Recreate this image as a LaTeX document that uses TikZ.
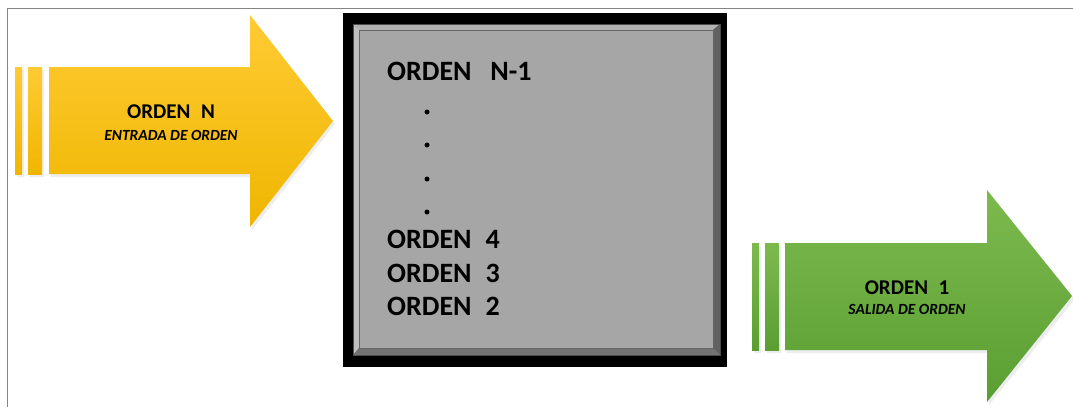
\documentclass[tikz,border=0pt]{standalone}
\usepackage{fontspec}
\setmainfont{Carlito}
\usetikzlibrary{calc}
\definecolor{frameGray}{HTML}{858585}
\definecolor{yelTop}{HTML}{FFCB34}
\definecolor{yelMid}{HTML}{FFC000}
\definecolor{yelBot}{HTML}{EFB600}
\definecolor{grnTop}{HTML}{7DBA4E}
\definecolor{grnMid}{HTML}{6AAD3F}
\definecolor{grnBot}{HTML}{5A9E32}
\definecolor{faceGray}{HTML}{A6A6A6}
\tikzset{
  bigtxt/.style={font=\bfseries\fontsize{28}{32}\selectfont, anchor=base west, inner sep=0pt, text=black},
  dottxt/.style={circle, fill=black, inner sep=0pt, minimum size=5pt},
  arrtitle/.style={font=\bfseries\fontsize{21}{24}\selectfont, inner sep=0pt, text=black},
  arrsub/.style={font=\bfseries\itshape\fontsize{15.5}{18}\selectfont, inner sep=0pt, text=black},
  yelshade/.style={top color=yelTop, middle color=yelMid, bottom color=yelBot},
  grnshade/.style={top color=grnTop, middle color=grnMid, bottom color=grnBot},
  arrshadow/.style={fill=black!20, opacity=0.35},
}
\begin{document}
\begin{tikzpicture}[x=1pt,y=-1pt]
\useasboundingbox (0,0) rectangle (1073,407);
\fill[white] (0,0) rectangle (1073,407);
% frame
\draw[frameGray, line width=1.6pt] (7.5,407) -- (7.5,8.5) -- (1073,8.5);

% yellow arrow
\path[arrshadow] (17,70) rectangle (24,177) (30,70) rectangle (44,177)
  (51,70) -- (252,70) -- (252,18) -- (335,124) -- (252,230) -- (252,177) -- (51,177) -- cycle;
\shade[yelshade] (15,67) rectangle (22,174);
\shade[yelshade] (28,67) rectangle (42,174);
\shade[yelshade] (49,67) -- (250,67) -- (250,15) -- (333,121) -- (250,227) -- (250,174) -- (49,174) -- cycle;
\node[arrtitle] (inT) at (171,112) {ORDEN\,\,\,N};
\node[arrsub] (inS) at (171,135) {ENTRADA DE ORDEN};

% green arrow
\path[arrshadow] (754,246) rectangle (761,353) (767,246) rectangle (781,353)
  (787,246) -- (989,246) -- (989,193) -- (1075,299) -- (989,405) -- (989,353) -- (787,353) -- cycle;
\shade[grnshade] (752,243) rectangle (759,350);
\shade[grnshade] (765,243) rectangle (779,350);
\shade[grnshade] (785,243) -- (987,243) -- (987,190) -- (1072,296) -- (987,402) -- (987,350) -- (785,350) -- cycle;
\node[arrtitle] (outT) at (907,288) {ORDEN\,\,\,1};
\node[arrsub] (outS) at (907,309) {SALIDA DE ORDEN};

% box
\fill[black] (343,13) rectangle (727,367);
\fill[black!55] (353,24) rectangle (720,355);
% bevels
\fill[black!30] (353,24) -- (720,24) -- (713,30) -- (359,30) -- cycle;
\fill[black!25] (353,24) -- (359,30) -- (359,348) -- (353,355) -- cycle;
\fill[black!62] (720,24) -- (720,355) -- (713,348) -- (713,30) -- cycle;
\fill[black!55] (353,355) -- (359,348) -- (713,348) -- (720,355) -- cycle;
\draw[black!70, line width=0.6pt] (353,24) rectangle (720,355);
\fill[faceGray] (359,30) rectangle (713,348);
\draw[black!60, line width=0.5pt] (359,30) rectangle (713,348);

\node[bigtxt] (o1) at (387,80) {ORDEN\,\,\,\,N-1};
\node[dottxt] (d1) at (427,112) {};
\node[dottxt] (d2) at (427,145) {};
\node[dottxt] (d3) at (427,179) {};
\node[dottxt] (d4) at (427,212) {};
\node[bigtxt] (o4) at (387,248) {ORDEN\,\,\,4};
\node[bigtxt] (o3) at (387,282) {ORDEN\,\,\,3};
\node[bigtxt] (o2) at (387,315) {ORDEN\,\,\,2};
\end{tikzpicture}
\end{document}
